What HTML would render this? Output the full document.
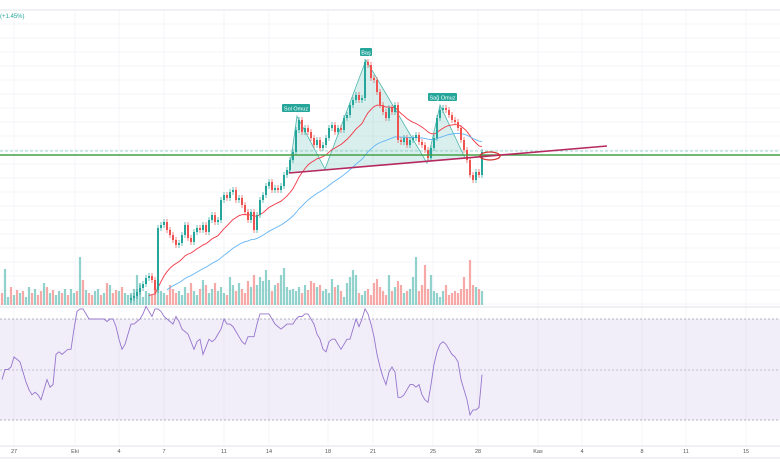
<!DOCTYPE html>
<html><head><meta charset="utf-8"><style>
body{margin:0;background:#fff;font-family:"Liberation Sans","Noto Sans CJK JP",sans-serif}
svg{display:block}
</style></head><body>
<svg id="chart" width="780" height="470" viewBox="0 0 780 470" xmlns="http://www.w3.org/2000/svg">
<rect x="0" y="0" width="780" height="470" fill="#fff"/>
<g id="grid"></g>
<line x1="0" y1="10" x2="780" y2="10" stroke="#e0e3eb"/>
<text x="0" y="18" font-size="6" fill="#26a69a">(+1.45%)</text>
<rect x="0" y="319" width="780" height="101" fill="#7e57c2" fill-opacity="0.1"/>
<line x1="0" y1="319" x2="780" y2="319" stroke="#9b9bb0" stroke-dasharray="2,2" stroke-width="0.8"/>
<line x1="0" y1="370" x2="780" y2="370" stroke="#b0b0c4" stroke-dasharray="2,2" stroke-width="0.8"/>
<line x1="0" y1="420" x2="780" y2="420" stroke="#9b9bb0" stroke-dasharray="2,2" stroke-width="0.8"/>
<line x1="0" y1="307" x2="780" y2="307" stroke="#e0e3eb"/>
<line x1="0" y1="446" x2="780" y2="446" stroke="#e0e3eb"/>
<line x1="0" y1="458" x2="780" y2="458" stroke="#e0e3eb"/>
<g id="vol"></g>
<polygon points="289,173 297,116 325,169 366,60 427,163 440,105 465,158" fill="#26a69a" fill-opacity="0.18" stroke="#4db6ac" stroke-width="0.8"/>
<line x1="0" y1="151" x2="780" y2="151" stroke="#80cbc4" stroke-dasharray="3,2" stroke-width="0.7"/>
<g id="ma"></g>
<g id="candles"></g>
<line x1="0" y1="155" x2="780" y2="155" stroke="#43a047" stroke-width="1.5"/>
<line x1="289" y1="173" x2="607" y2="146" stroke="#b5295f" stroke-width="1.6"/>
<ellipse cx="490" cy="156" rx="10" ry="4" fill="none" stroke="#d32f2f" stroke-width="1.3"/>
<g><rect x="282" y="104" width="28" height="8" rx="1" fill="#26a69a"/><text x="296" y="110.5" font-size="5.5" fill="#fff" text-anchor="middle">Sol Omuz</text></g>
<g><rect x="360" y="48" width="12" height="8" rx="1" fill="#26a69a"/><text x="366" y="54.5" font-size="5.5" fill="#fff" text-anchor="middle">Baş</text></g>
<g><rect x="428" y="93" width="29" height="8" rx="1" fill="#26a69a"/><text x="442.5" y="99.5" font-size="5.5" fill="#fff" text-anchor="middle">Sağ Omuz</text></g>
<path id="rsi" fill="none" stroke="#9575cd" stroke-width="0.9"/>
<g id="xaxis"></g>
</svg>
<script>
const preCloses=[10,12,8,14,16,12,10,8,12,15,18,14,10,8,6,10,12,14,16,12,10,14,18,20,16,12,10,14,18,16,12,10,12,16,18,20,16,14,12,10];
const closes=[22,24,28,32,36,42,44,40,30,92,95,98,90,85,80,75,77,85,95,82,78,88,92,90,95,88,100,105,98,100,120,125,122,128,130,120,122,115,108,100,108,90,105,120,125,134,138,130,132,130,134,145,150,160,168,190,200,188,192,188,182,175,180,172,175,182,192,195,188,192,190,202,205,215,220,225,220,222,258,255,242,240,228,215,208,202,212,208,215,180,178,182,175,180,182,185,178,175,170,162,172,182,202,210,212,210,205,200,198,192,180,170,160,145,140,148,145,168];
const volumes=[12,36,8,18,10,15,12,14,8,18,12,16,10,14,22,18,12,15,10,14,12,16,10,16,12,14,48,25,15,12,10,14,16,10,12,22,20,12,15,14,18,12,10,
12,16,30,22,8,14,12,10,18,26,14,12,10,20,16,12,14,10,18,12,22,14,10,16,25,20,12,16,22,14,18,12,10,28,20,14,22,16,12,24,18,30,20,28,24,35,25,14,20,22,30,37,18,15,16,14,18,12,20,15,24,22,18,20,14,16,12,26,18,20,14,8,22,28,35,30,12,10,14,16,10,22,26,18,14,10,30,14,18,24,20,12,14,16,28,48,14,20,40,16,30,14,12,8,14,20,10,12,14,12,16,28,16,45,20,18,16,14];
const preDirections="0110101011010010101101011010100110101001011";
const rsiValues=[46,50,50,51,55,54,53,49,45,42,40,41,40,38,42,46,43,44,56,57,56,57,58,58,66,73,74,74,72,70,70,70,70,70,70,69,70,70,67,62,58,60,64,68,68,69,70,72,75,73,71,74,74,73,71,70,69,68,71,69,66,65,64,61,58,61,62,56,59,62,61,62,64,66,70,68,68,67,65,63,61,60,63,63,63,68,72,72,72,72,70,68,67,66,67,68,68,68,70,71,71,72,72,70,68,64,62,58,57,61,62,62,60,58,60,62,62,66,70,67,70,74,72,68,63,56,51,47,44,49,51,49,39,39,40,42,44,44,43,44,40,38,37,44,52,57,60,61,60,58,56,55,53,46,42,38,32,34,34,35,48];
const timeLabels=["27","Eki","4","7","11","14","18","21","25","28","Kas","4","8","11","15"];
const timeLabelPos=[14,75,119,164,224,269,328,373,433,478,538,582,642,686,746];

const NS="http://www.w3.org/2000/svg";
const barX=j=>2+3*j;               // bar index -> x
const candleOffset=43;             // first candle at bar index 43
const yPrice=p=>320-p;             // price axis
const yVol=v=>305-v;               // volume axis
const yRsi=r=>420-(r-30)*101/40;   // RSI axis
function mk(tag,attrs,parent){const e=document.createElementNS(NS,tag);for(const k in attrs)e.setAttribute(k,attrs[k]);parent.appendChild(e);return e;}

const grid=document.getElementById('grid');
for(let y=24;y<305;y+=14){const l=mk('line',{x1:0,x2:780,y1:y,y2:y,stroke:'#f2f3f6','stroke-width':0.8},grid);

}
timeLabelPos.forEach(x=>{const l=mk('line',{x1:x,x2:x,y1:10,y2:446,stroke:'#f2f3f6','stroke-width':0.8},grid);

});

const cg=document.getElementById('candles');
const dirs=[];
closes.forEach((c,i)=>{
  const o=i>0?closes[i-1]:c-2;
  const up=c>=o;dirs.push(up);
  const x=barX(i+candleOffset);
  const col=up?'#26a69a':'#ef5350';
  const hi=Math.max(o,c)+3,lo=Math.min(o,c)-3;
  const w=mk('line',{x1:x,x2:x,y1:yPrice(hi),y2:yPrice(lo),stroke:col,'stroke-width':0.7},cg);
  
  
  const top=yPrice(Math.max(o,c)),h=Math.max(1,Math.abs(c-o));
  const b=mk('rect',{x:x-1,y:top,width:2,height:h,fill:col},cg);
  
  
});

const vg=document.getElementById('vol');
const nBars=candleOffset+closes.length;
volumes.forEach((v,j)=>{
  if(j>=nBars)return;
  let up;
  if(j<candleOffset)up=preDirections[j]==='1';else up=dirs[j-candleOffset];
  const r=mk('rect',{x:barX(j)-1.1,y:yVol(v),width:2.2,height:v,fill:up?'rgba(38,166,154,0.5)':'rgba(239,83,80,0.5)'},vg);
  
  
});

function ema(n,start){const all=preCloses.concat(closes);const k=2/(n+1);let e=all[0];let d='';
  all.forEach((c,idx)=>{e=idx?c*k+e*(1-k):c;const i=idx-preCloses.length;if(i<start)return;
  d+=(d?'L':'M')+barX(i+candleOffset)+','+Math.min(306,yPrice(e)).toFixed(1);});return d;}
const mg=document.getElementById('ma');
const m1=mk('path',{d:ema(20,6),fill:'none',stroke:'#f23645','stroke-width':0.9},mg);


const m2=mk('path',{d:ema(50,12),fill:'none',stroke:'#64b5f6','stroke-width':0.9},mg);



document.getElementById('rsi').setAttribute('d',rsiValues.map((r,j)=>(j?'L':'M')+barX(j)+','+yRsi(r).toFixed(1)).join(''));

const xg=document.getElementById('xaxis');
timeLabels.forEach((t,i)=>{const e=mk('text',{x:timeLabelPos[i],y:453,'font-size':5.5,fill:'#555','text-anchor':'middle'},xg);e.textContent=t;

});
</script>
</body></html>
